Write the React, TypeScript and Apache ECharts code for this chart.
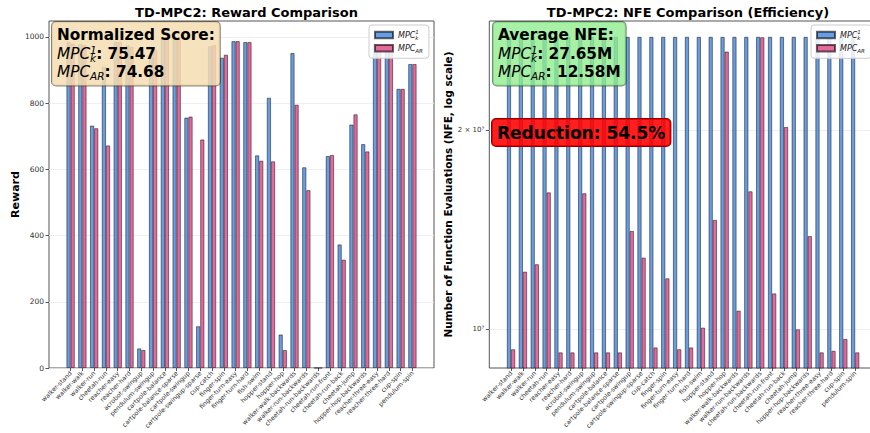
import React, { useEffect, useRef } from 'react';
import * as echarts from 'echarts';

const categories = [
  'walker-stand', 'walker-walk', 'walker-run', 'cheetah-run', 'reacher-easy', 'reacher-hard',
  'acrobot-swingup', 'pendulum-swingup', 'cartpole-balance', 'cartpole-balance-sparse',
  'cartpole-swingup', 'cartpole-swingup-sparse', 'cup-catch', 'finger-spin', 'finger-turn-easy',
  'finger-turn-hard', 'fish-swim', 'hopper-stand', 'hopper-hop', 'walker-walk-backwards',
  'walker-run-backwards', 'cheetah-run-backwards', 'cheetah-run-front', 'cheetah-run-back',
  'cheetah-jump', 'hopper-hop-backwards', 'reacher-three-easy', 'reacher-three-hard', 'cup-spin',
  'pendulum-spin',
];

const rewardMPC1k = [
  985, 978, 732, 910, 985, 975, 59, 940, 995, 995, 756, 126, 972, 937, 987,
  984, 642, 816, 101, 951, 606, 0, 640, 373, 735, 676, 980, 978, 843, 918,
];
const rewardMPCAR = [
  980, 975, 724, 672, 985, 970, 54, 960, 995, 995, 759, 690, 975, 946, 987,
  984, 626, 624, 54, 795, 537, 0, 643, 327, 766, 654, 975, 978, 843, 918,
];

const nfeMPC1k = [
  27.65e6, 27.65e6, 27.65e6, 27.65e6, 27.65e6, 27.65e6, 27.65e6, 27.65e6, 27.65e6, 27.65e6,
  27.65e6, 27.65e6, 27.65e6, 27.65e6, 27.65e6, 27.65e6, 27.65e6, 27.65e6, 27.65e6, 27.65e6,
  27.65e6, 27.65e6, 27.65e6, 27.65e6, 27.65e6, 27.65e6, 27.65e6, 27.65e6, 27.65e6, 27.65e6,
];
const nfeMPCAR = [
  9.33e6, 12.22e6, 12.54e6, 16.1e6, 9.23e6, 9.23e6, 16.05e6, 9.23e6, 9.23e6, 9.23e6,
  14.08e6, 12.83e6, 9.39e6, 11.94e6, 9.33e6, 9.39e6, 10.06e6, 14.63e6, 26.27e6, 10.67e6,
  16.16e6, 27.61e6, 11.33e6, 20.21e6, 10.0e6, 13.83e6, 9.23e6, 9.28e6, 9.67e6, 9.23e6,
];

const rewardTicks = [0, 200, 400, 600, 800, 1000];
const nfeTicks = [1e7, 2e7];
const nfeTickLabels = ['10⁷', '2 × 10⁷'];

const scoreMPC1k = '75.47';
const scoreMPCAR = '74.68';
const avgNfeMPC1k = '27.65M';
const avgNfeMPCAR = '12.58M';
const reduction = '54.5%';

const FONT = 'DejaVu Sans';
const BLUE = '#679DE2';
const PINK = '#E8679D';
const EDGE = 'rgba(0,0,0,0.6)';

const annRich = {
  h: { fontFamily: FONT, fontSize: 15.3, fontWeight: 'bold', color: '#000', lineHeight: 18.5 },
  i: { fontFamily: FONT, fontSize: 15.3, fontStyle: 'italic', color: '#000', lineHeight: 18.5 },
  sp: { fontFamily: FONT, fontSize: 10.5, fontStyle: 'italic', color: '#000', lineHeight: 11, verticalAlign: 'top', width: 0 },
  sb: { fontFamily: FONT, fontSize: 10.5, fontStyle: 'italic', color: '#000', lineHeight: 11, verticalAlign: 'bottom' },
  r: { fontFamily: FONT, fontSize: 17, fontWeight: 'bold', color: '#fff', lineHeight: 19 },
};

const legendRich = {
  i: { fontFamily: FONT, fontSize: 8, fontStyle: 'italic', color: '#222', lineHeight: 12 },
  sp: { fontFamily: FONT, fontSize: 5.5, fontStyle: 'italic', color: '#222', lineHeight: 6, verticalAlign: 'top', width: 0 },
  sb: { fontFamily: FONT, fontSize: 5.5, fontStyle: 'italic', color: '#222', lineHeight: 6, verticalAlign: 'bottom' },
};

const legendFmt = (name: string) =>
  name === 'MPC1k' ? '{i|MPC}{sp|1}{sb|k}' : '{i|MPC}{sb|AR}';

const makeLegend = (left: number) => ({
  data: ['MPC1k', 'MPCAR'],
  orient: 'vertical',
  left,
  top: 25,
  icon: 'rect',
  itemWidth: 18,
  itemHeight: 6.5,
  itemGap: 3,
  padding: [4, 6, 4, 5],
  backgroundColor: 'rgba(255,255,255,0.85)',
  borderColor: '#cccccc',
  borderWidth: 1,
  borderRadius: 3,
  selectedMode: false,
  formatter: legendFmt,
  textStyle: { rich: legendRich },
});

export default function App() {
  const ref = useRef<HTMLDivElement>(null);

  useEffect(() => {
    if (!ref.current) return;
    const chart = echarts.init(ref.current, undefined, { renderer: 'svg' });

    const frameY = {
      axisLine: { show: false },
      axisTick: { show: true, length: 3.5, lineStyle: { color: '#555' } },
      splitLine: { show: true, lineStyle: { color: '#ebebeb', width: 0.8 } },
    };

    const innerX = (gridIndex: number) => ({
      type: 'category',
      gridIndex,
      data: categories,
      axisLine: { show: false },
      axisTick: { show: true, alignWithLabel: true, length: 3, lineStyle: { color: '#555' } },
      axisLabel: {
        interval: 0,
        rotate: 45,
        fontSize: 6.3,
        fontFamily: FONT,
        color: '#333',
        margin: 4,
      },
    });

    const barStyle = (color: string) => ({ color, borderColor: EDGE, borderWidth: 0.8 });

    chart.setOption({
      animation: false,
      textStyle: { fontFamily: FONT },
      title: [
        {
          text: 'TD-MPC2: Reward Comparison',
          left: 241.5,
          top: 1,
          textAlign: 'center',
          textStyle: { fontFamily: FONT, fontSize: 13, fontWeight: 'bold', color: '#000' },
        },
        {
          text: 'TD-MPC2: NFE Comparison (Efficiency)',
          left: 683,
          top: 1,
          textAlign: 'center',
          textStyle: { fontFamily: FONT, fontSize: 13, fontWeight: 'bold', color: '#000' },
        },
      ],
      legend: [makeLegend(369), makeLegend(811)],
      grid: [
        { left: 49, right: 436, top: 21, bottom: 65, show: true, borderColor: '#555', borderWidth: 1, backgroundColor: 'transparent', outerBoundsMode: 'none' },
        { left: 64.7, right: 451.7, top: 21, bottom: 65, outerBoundsMode: 'none' },
        { left: 489.3, right: -7, top: 21, bottom: 65, show: true, borderColor: '#555', borderWidth: 1, backgroundColor: 'transparent', outerBoundsMode: 'none' },
        { left: 505.1, right: 8.9, top: 21, bottom: 65, outerBoundsMode: 'none' },
      ],
      xAxis: [
        { type: 'value', gridIndex: 0, show: false, min: 0, max: 1 },
        innerX(1),
        { type: 'value', gridIndex: 2, show: false, min: 0, max: 1 },
        innerX(3),
      ],
      yAxis: [
        {
          type: 'value',
          gridIndex: 0,
          min: 0,
          max: 1048,
          ...frameY,
          axisTick: { ...frameY.axisTick, customValues: rewardTicks },
          axisLabel: {
            customValues: rewardTicks,
            fontSize: 7.5,
            fontFamily: FONT,
            color: '#333',
            margin: 5,
            formatter: (v: number) => String(v),
          },
          name: 'Reward',
          nameLocation: 'middle',
          nameGap: 22,
          nameTextStyle: { fontFamily: FONT, fontSize: 11, fontWeight: 'bold', color: '#000' },
        },
        { type: 'value', gridIndex: 1, min: 0, max: 1048, show: false, splitLine: { show: false } },
        {
          type: 'log',
          logBase: 10,
          gridIndex: 2,
          min: 8.743e6,
          max: 2.922e7,
          ...frameY,
          axisTick: { ...frameY.axisTick, customValues: nfeTicks },
          axisLabel: {
            customValues: nfeTicks,
            fontSize: 7,
            fontFamily: FONT,
            color: '#333',
            margin: 5,
            formatter: (v: number) => {
              const idx = nfeTicks.findIndex((t) => Math.abs(t - v) / t < 1e-6);
              return idx >= 0 ? nfeTickLabels[idx] : '';
            },
          },
          name: 'Number of Function Evaluations (NFE, log scale)',
          nameLocation: 'middle',
          nameGap: 35,
          nameTextStyle: { fontFamily: FONT, fontSize: 10.5, fontWeight: 'bold', color: '#000' },
        },
        { type: 'log', logBase: 10, gridIndex: 3, min: 8.743e6, max: 2.922e7, show: false, splitLine: { show: false } },
      ],
      series: [
        { type: 'bar', name: 'MPC1k', xAxisIndex: 1, yAxisIndex: 1, data: rewardMPC1k, barWidth: 4.12, barGap: '0%', itemStyle: barStyle(BLUE) },
        { type: 'bar', name: 'MPCAR', xAxisIndex: 1, yAxisIndex: 1, data: rewardMPCAR, barWidth: 4.12, barGap: '0%', itemStyle: barStyle(PINK) },
        { type: 'bar', name: 'MPC1k', xAxisIndex: 3, yAxisIndex: 3, data: nfeMPC1k, barWidth: 4.15, barGap: '0%', itemStyle: barStyle(BLUE) },
        { type: 'bar', name: 'MPCAR', xAxisIndex: 3, yAxisIndex: 3, data: nfeMPCAR, barWidth: 4.15, barGap: '0%', itemStyle: barStyle(PINK) },
      ],
      graphic: [
        {
          type: 'text',
          x: 52,
          y: 22,
          z: 100,
          style: {
            text: `{h|Normalized Score:}\n{i|MPC}{sp|1}{sb|k}{h|: ${scoreMPC1k}}\n{i|MPC}{sb|AR}{h|: ${scoreMPCAR}}`,
            rich: annRich,
            align: 'left',
            verticalAlign: 'top',
            backgroundColor: 'rgba(245,222,179,0.85)',
            borderColor: 'rgba(60,50,30,0.6)',
            borderWidth: 1,
            borderRadius: 4,
            padding: [4, 5, 4, 5],
          },
        },
        {
          type: 'text',
          x: 493,
          y: 22,
          z: 100,
          style: {
            text: `{h|Average NFE:}\n{i|MPC}{sp|1}{sb|k}{h|: ${avgNfeMPC1k}}\n{i|MPC}{sb|AR}{h|: ${avgNfeMPCAR}}`,
            rich: annRich,
            align: 'left',
            verticalAlign: 'top',
            backgroundColor: 'rgba(144,238,144,0.8)',
            borderColor: 'rgba(30,60,30,0.6)',
            borderWidth: 1,
            borderRadius: 4,
            padding: [4, 5, 4, 5],
          },
        },
        {
          type: 'text',
          x: 492,
          y: 119,
          z: 100,
          style: {
            text: `{r|Reduction: ${reduction}}`,
            rich: annRich,
            align: 'left',
            verticalAlign: 'top',
            backgroundColor: 'rgba(255,0,0,0.88)',
            borderColor: '#8B0000',
            borderWidth: 1,
            borderRadius: 4,
            padding: [4, 5, 4, 5],
          },
        },
      ],
    });

    return () => chart.dispose();
  }, []);

  return (
    <div
      ref={ref}
      style={{ position: 'absolute', left: 0, top: 0, width: 870, height: 433, background: '#fff' }}
    />
  );
}
